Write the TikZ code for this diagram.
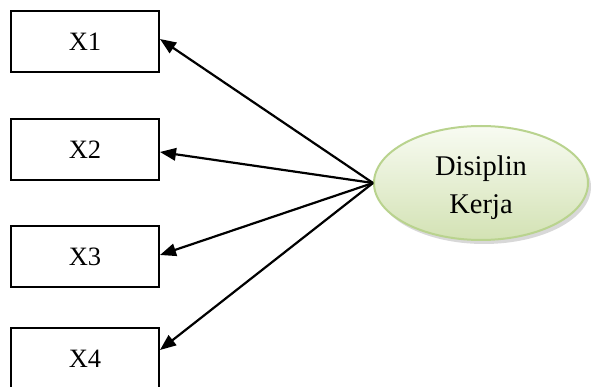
\documentclass[tikz,border=0pt]{standalone}
\usepackage{fontspec}
\setmainfont{Liberation Serif}
\usetikzlibrary{arrows.meta,shadows,shapes.geometric}
\definecolor{olivefill}{HTML}{D3E2B4}
\definecolor{olivetop}{HTML}{F8FBF2}
\definecolor{oliveline}{HTML}{B9D38E}
\tikzset{
  varbox/.style={draw=black, line width=2pt, minimum width=148pt, minimum height=61pt,
    inner sep=0pt, font=\fontsize{26.5}{30}\selectfont},
  latent/.style={ellipse, draw=oliveline, line width=2pt, minimum width=214pt, minimum height=114pt,
    top color=olivetop, bottom color=olivefill, align=center, inner sep=0pt,
    font=\fontsize{28.5}{38}\selectfont,
    drop shadow={shadow xshift=3pt, shadow yshift=-4pt, opacity=0.3, fill=black!50}},
  path/.style={line width=2.2pt, -{Triangle[length=16pt,width=12.5pt]}}
}
\begin{document}
\begin{tikzpicture}[x=1pt,y=-1pt]
  \clip (0,0) rectangle (600,387);
  \fill[white] (0,0) rectangle (600,387);
  \node[varbox] (x1) at (85,41.5) {X1};
  \node[varbox] (x2) at (85,150) {X2};
  \node[varbox] (x3) at (85,256.5) {X3};
  \node[varbox] (x4) at (85,358.5) {X4};
  % the strut lowers the two-line label slightly within the ellipse
  \node[latent] (dk) at (481,183) {\rule{0pt}{29pt}Disiplin\\Kerja};
  \draw[path] (dk.west) -- ([yshift=2.5pt]x1.east);
  \draw[path] (dk.west) -- ([yshift=-2pt]x2.east);
  \draw[path] (dk.west) -- ([yshift=1.5pt]x3.east);
  \draw[path] (dk.west) -- ([yshift=8.5pt]x4.east);
\end{tikzpicture}
\end{document}
